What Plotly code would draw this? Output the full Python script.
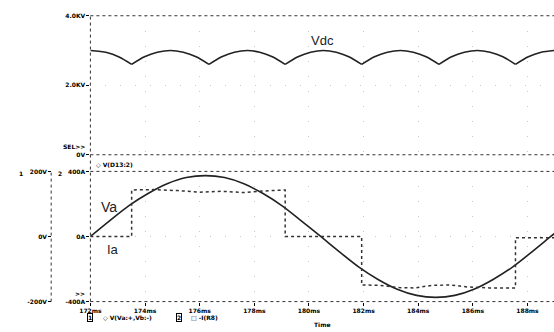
import plotly.graph_objects as go

W, H = 554, 332

# ---------------- data ----------------
# Top plot: Vdc (kV) -- arches between cusps (None separates arches)
vdc_t = [172.00, 172.60, 173.05, 173.51, None,
         173.51, 173.98, 174.45, 174.93, 175.40, 175.87, 176.34, None,
         176.34, 176.81, 177.27, 177.74, 178.20, 178.66, 179.13, None,
         179.13, 179.60, 180.06, 180.53, 181.00, 181.46, 181.93, None,
         181.93, 182.40, 182.87, 183.35, 183.82, 184.29, 184.76, None,
         184.76, 185.22, 185.69, 186.16, 186.63, 187.10, 187.56, None,
         187.56, 188.03, 188.50, 188.97]
vdc_v = [3.00, 2.94, 2.81, 2.60, None,
         2.60, 2.82, 2.95, 3.00, 2.95, 2.82, 2.60, None,
         2.60, 2.82, 2.95, 3.00, 2.95, 2.82, 2.60, None,
         2.60, 2.82, 2.95, 3.00, 2.95, 2.82, 2.60, None,
         2.60, 2.82, 2.95, 3.00, 2.95, 2.82, 2.60, None,
         2.60, 2.82, 2.95, 3.00, 2.95, 2.82, 2.60, None,
         2.60, 2.82, 2.95, 3.00]

# Bottom plot: Va (axis 1, V)
va_t = [172.00, 172.70, 173.40, 174.11, 174.81, 175.51, 176.21, 176.91, 177.62,
        178.32, 179.02, 179.72, 180.43, 181.13, 181.83, 182.53, 183.23, 183.94,
        184.64, 185.34, 186.04, 186.74, 187.45, 188.15, 188.85, 189.00]
va_v = [0, 48, 94, 132, 162, 181, 187, 181, 162,
        132, 94, 48, 0, -48, -94, -132, -162, -181,
        -187, -181, -162, -132, -94, -48, 0, 10]

# Bottom plot: Ia (axis 2, A) -- stepped waveform
ia_t = [172.00, 173.51, 173.51, 174.30, 175.20, 176.00, 176.80, 177.60, 178.40, 179.13,
        179.13, 181.93, 181.93, 182.60, 183.30, 183.90, 184.50, 185.20, 185.80, 186.60,
        187.56, 187.56, 189.00]
ia_v = [0, 0, 286, 288, 282, 272, 278, 270, 280, 286,
        0, 0, -298, -300, -314, -316, -300, -298, -310, -316,
        -316, -8, -8]

x_ticks = [172, 174, 176, 178, 180, 182, 184, 186, 188]
x_ticktext = ["172ms", "174ms", "176ms", "178ms", "180ms", "182ms", "184ms", "186ms", "188ms"]
top_ticks = [0, 2, 4]
top_ticktext = ["0V", "2.0KV", "4.0KV"]
ax1_ticks = [-200, 0, 200]
ax1_ticktext = ["-200V", "0V", "200V"]
ax2_ticks = [-400, 0, 400]
ax2_ticktext = ["-400A", "0A", "400A"]

# ---------------- layout helpers ----------------
def px(x):
    return x / W

def py(y):
    return (H - y) / H

XL = 81
top_dom = [py(154), py(12)]
bot_dom = [py(304), py(171)]
xrange_ = [172, 188.97]

tickfont = dict(family="DejaVu Sans", size=6, color="black", weight="bold")

fig = go.Figure()
fig.add_trace(go.Scatter(x=vdc_t, y=vdc_v, mode="lines", xaxis="x", yaxis="y",
                         line=dict(color="#222", width=1.6, shape="spline", smoothing=0.8),
                         connectgaps=False, showlegend=False))
fig.add_trace(go.Scatter(x=va_t, y=va_v, mode="lines", xaxis="x2", yaxis="y2",
                         line=dict(color="#222", width=1.6, shape="spline", smoothing=0.8),
                         showlegend=False))
fig.add_trace(go.Scatter(x=ia_t, y=ia_v, mode="lines", xaxis="x2", yaxis="y3",
                         line=dict(color="#333", width=1.5, dash="dot"),
                         showlegend=False))

grid = dict(showgrid=True, gridcolor="#c8c8c8", gridwidth=1, griddash="1px,14px")

fig.update_layout(
    width=W, height=H, margin=dict(l=0, r=0, t=0, b=0),
    paper_bgcolor="white", plot_bgcolor="white",
    xaxis=dict(domain=[px(XL), 1.0], range=xrange_, anchor="y", tickvals=x_ticks,
               showticklabels=False, ticks="", zeroline=False, showline=False, **grid),
    xaxis2=dict(domain=[px(XL), 1.0], range=xrange_, anchor="y2", tickvals=x_ticks,
                ticktext=x_ticktext, tickfont=tickfont, ticks="outside", ticklen=3,
                tickcolor="black", zeroline=False, showline=False, **grid),
    yaxis=dict(domain=top_dom, range=[0, 4], anchor="x", tickvals=top_ticks,
               ticktext=top_ticktext, tickfont=tickfont, ticks="outside", ticklen=3,
               tickcolor="black", zeroline=False, showline=False,
               showgrid=True, gridcolor="#c8c8c8", griddash="1px,14px"),
    yaxis2=dict(domain=bot_dom, range=[-200, 200], anchor="free", position=px(41),
                tickvals=ax1_ticks, ticktext=ax1_ticktext, tickfont=tickfont,
                ticks="outside", ticklen=3, tickcolor="black", zeroline=False,
                showline=False, showgrid=True, gridcolor="#c8c8c8", griddash="1px,14px"),
    yaxis3=dict(domain=bot_dom, range=[-400, 400], anchor="x2", overlaying="y2",
                tickvals=ax2_ticks, ticktext=ax2_ticktext, tickfont=tickfont,
                ticks="outside", ticklen=3, tickcolor="black", zeroline=False,
                showline=False, showgrid=False),
)

dot = dict(color="#333", width=1, dash="dot")
shapes = [
    dict(type="line", xref="paper", yref="paper", x0=px(XL), x1=1, y0=top_dom[1], y1=top_dom[1], line=dot),
    dict(type="line", xref="paper", yref="paper", x0=px(XL), x1=1, y0=top_dom[0], y1=top_dom[0], line=dot),
    dict(type="line", xref="paper", yref="paper", x0=px(XL), x1=1, y0=bot_dom[1], y1=bot_dom[1], line=dot),
    dict(type="line", xref="paper", yref="paper", x0=px(XL), x1=1, y0=bot_dom[0], y1=bot_dom[0], line=dot),
    dict(type="line", xref="paper", yref="paper", x0=px(XL), x1=px(XL), y0=bot_dom[0], y1=top_dom[1], line=dot),
    dict(type="line", xref="paper", yref="paper", x0=px(41), x1=px(41), y0=bot_dom[0], y1=bot_dom[1], line=dot),
]
fig.update_layout(shapes=shapes)

small = dict(family="DejaVu Sans", size=6, color="black", weight="bold")
ann = [
    dict(x=px(78), y=py(146), text="SEL>>", xanchor="right", font=small),
    dict(x=px(85), y=py(164), text="◇ V(D13:2)", xanchor="left", font=small),
    dict(x=px(10), y=py(173), text="1", xanchor="center", font=small),
    dict(x=px(50), y=py(173), text="2", xanchor="center", font=small),
    dict(x=px(78), y=py(296), text=">>", xanchor="right", font=small),
    dict(x=px(78), y=py(320), text="1", xanchor="left", font=small,
         bordercolor="black", borderwidth=1, borderpad=0),
    dict(x=px(92), y=py(320), text="◇ V(Va:+,Vb:-)", xanchor="left", font=small),
    dict(x=px(168), y=py(320), text="2", xanchor="left", font=small,
         bordercolor="black", borderwidth=1, borderpad=0),
    dict(x=px(182), y=py(320), text="□ -I(R8)", xanchor="left", font=small),
    dict(x=px(317), y=py(327), text="Time", xanchor="center", font=small),
    dict(x=px(318), y=py(37), text="Vdc", xanchor="center",
         font=dict(family="Liberation Sans", size=13, color="#222")),
    dict(x=px(100), y=py(207), text="Va", xanchor="center",
         font=dict(family="Liberation Sans", size=14, color="#222")),
    dict(x=px(104), y=py(251), text="Ia", xanchor="center",
         font=dict(family="Liberation Sans", size=13, color="#222")),
]
for a in ann:
    a.setdefault("xref", "paper")
    a.setdefault("yref", "paper")
    a.setdefault("showarrow", False)
    a.setdefault("yanchor", "middle")
fig.update_layout(annotations=ann)

fig.write_html("out.html", config={"displayModeBar": False},
               post_script="document.body.style.margin='0';document.body.style.overflow='hidden';")
